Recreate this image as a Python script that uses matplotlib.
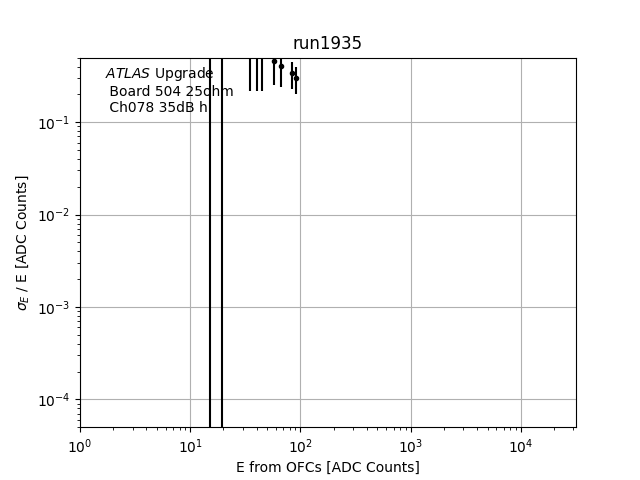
import matplotlib
matplotlib.use('Agg')
import matplotlib.pyplot as plt
import numpy as np

# energies and resolution
energy = np.array([15.2, 19.5, 35, 40, 45, 57, 66, 83, 92])
sigma_over_e = np.array([3.0, 3.0, 0.7, 0.7, 0.68, 0.46, 0.41, 0.34, 0.30])
sigma_err = np.array([4.0, 4.0, 0.48, 0.48, 0.46, 0.21, 0.17, 0.11, 0.10])

fig = plt.figure()
ax = fig.add_subplot(111)
ax.errorbar(energy, sigma_over_e, yerr=sigma_err, fmt='k.')
ax.set_xscale('log')
ax.set_yscale('log')
ax.set_xlim(1, 10**4.5)
ax.set_ylim(5e-5, 0.5)
ax.grid(True)
ax.set_title('run1935')
ax.set_xlabel('E from OFCs [ADC Counts]')
ax.set_ylabel(r'$\sigma_E$ / E [ADC Counts]')
ax.text(0.05, 0.98, '$\\it{ATLAS}$ Upgrade\n Board 504 25ohm\n Ch078 35dB h',
        transform=ax.transAxes, va='top')
plt.savefig('out.png')
